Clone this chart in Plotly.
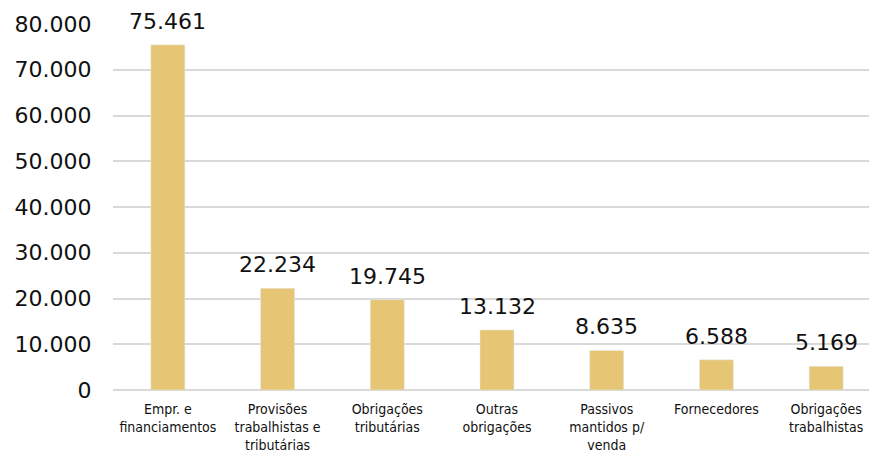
import plotly.graph_objects as go

categories = ["Empr. e<br>financiamentos", "Provisões<br>trabalhistas e<br>tributárias",
              "Obrigações<br>tributárias", "Outras<br>obrigações",
              "Passivos<br>mantidos p/<br>venda", "Fornecedores", "Obrigações<br>trabalhistas"]
values = [75461, 22234, 19745, 13132, 8635, 6588, 5169]
tick_vals = [0, 10000, 20000, 30000, 40000, 50000, 60000, 70000, 80000]
tick_text = ["0", "10.000", "20.000", "30.000", "40.000", "50.000", "60.000", "70.000", "80.000"]
value_labels = [f"{v:,}".replace(",", ".") for v in values]

fig = go.Figure()
fig.add_trace(go.Bar(x=categories, y=values, marker_color="#E6C574", width=0.31))

for c, v, t in zip(categories, values, value_labels):
    fig.add_annotation(x=c, y=v, text=t, showarrow=False, yanchor="bottom", yshift=9,
                       font=dict(family="DejaVu Sans", size=22, color="#111111"))

fig.update_layout(
    width=877, height=443,
    margin=dict(l=105, r=4, t=16, b=61, autoexpand=False),
    plot_bgcolor="white", paper_bgcolor="white",
    showlegend=False,
)
fig.update_yaxes(range=[0, 80000], tickvals=tick_vals, ticktext=tick_text, automargin=False,
                 gridcolor="#D9D9D9", gridwidth=1.5, zeroline=True, zerolinecolor="#D9D9D9",
                 zerolinewidth=1.5, ticks="outside", ticklen=16, tickcolor="rgba(0,0,0,0)",
                 tickfont=dict(family="DejaVu Sans", size=22, color="#111111"))
fig.update_xaxes(tickfont=dict(family="DejaVu Sans Condensed, Roboto", size=14, color="#111111"),
                 automargin=False, ticks="outside", ticklen=6, tickcolor="rgba(0,0,0,0)", tickangle=0)

fig.write_html("out.html")
